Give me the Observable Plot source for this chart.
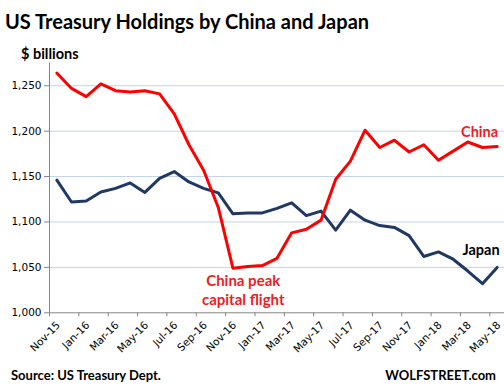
<!DOCTYPE html>
<html>
<head>
<meta charset="utf-8">
<script src="https://cdn.jsdelivr.net/npm/d3@7"></script>
<script src="https://cdn.jsdelivr.net/npm/@observablehq/plot@0.6"></script>
<style>
  html, body { margin: 0; padding: 0; background: #fff; }
  #wrap { position: relative; width: 504px; height: 391px; overflow: hidden; background: #fff; }
  .t { position: absolute; white-space: nowrap; font-family: Lato, "Open Sans", sans-serif; font-weight: bold; color: #000; z-index: 2; }
  #title { left: 5px; top: 11px; font-size: 20px; line-height: 20px; }
  #unit { left: 21px; top: 46px; font-size: 14.5px; line-height: 15px; }
  #source { left: 11px; top: 368px; font-size: 13px; line-height: 14px; }
  #brand { right: 8px; top: 368px; font-size: 13px; line-height: 14px; }
  #chart { position: absolute; left: 0; top: 40px; z-index: 1; }
</style>
</head>
<body>
<div id="wrap">
  <div id="chart"></div>
  <div class="t" id="title">US Treasury Holdings by China and Japan</div>
  <div class="t" id="unit">$ billions</div>
  <div class="t" id="source">Source: US Treasury Dept.</div>
  <div class="t" id="brand">WOLFSTREET.com</div>
</div>
<script>
const months = ["Nov-15","Dec-15","Jan-16","Feb-16","Mar-16","Apr-16","May-16","Jun-16","Jul-16","Aug-16","Sep-16","Oct-16",
  "Nov-16","Dec-16","Jan-17","Feb-17","Mar-17","Apr-17","May-17","Jun-17","Jul-17","Aug-17","Sep-17","Oct-17",
  "Nov-17","Dec-17","Jan-18","Feb-18","Mar-18","Apr-18","May-18"];
const china = [1264,1247,1238,1252,1244.5,1243,1244.5,1241,1219,1185,1157,1116,
  1049,1051,1052,1060,1088,1092,1102,1147,1167,1201,1182,1190,1177,1185,1168,1178,1188,1182,1183];
const japan = [1146,1122,1123,1133,1137,1143,1132.5,1148,1155.5,1144,1137,1132,
  1109,1110,1110,1115,1121,1107,1112,1091,1113,1102,1096,1094,1085,1062,1067,1059,1046,1032,1050];
const yTicks = [1000,1050,1100,1150,1200,1250];
const yGrid = [1050,1100,1150,1200,1250];

const chinaData = months.map((m, i) => ({i, m, v: china[i]}));
const japanData = months.map((m, i) => ({i, m, v: japan[i]}));
const labelData = months.map((m, i) => ({i, m})).filter(d => d.i % 2 === 0);
const boundaries = labelData.map(d => d.i - 0.5);
const xMin = -0.5, xMax = months.length - 0.5;
const fmt = d3.format(",");

const axisGrey = "#868686";
const gridBlue = "#c3d3ea";
const red = "#ff0000";
const navy = "#1f3864";

const chart = Plot.plot({
  width: 504,
  height: 325,
  marginLeft: 49,
  marginRight: 0,
  marginTop: 22.5,
  marginBottom: 52.7,
  style: {fontFamily: "DejaVu Sans, Verdana, sans-serif", fontSize: "10.5px", background: "transparent", color: "#000"},
  x: {type: "linear", domain: [xMin, xMax], axis: null},
  y: {domain: [1000, 1275], axis: null},
  marks: [
    Plot.ruleY(yGrid, {stroke: gridBlue, strokeWidth: 1}),
    Plot.ruleY([1000], {stroke: axisGrey, strokeWidth: 1}),
    Plot.ruleX([xMin], {stroke: axisGrey, strokeWidth: 1}),
    Plot.ruleY(yTicks, {x1: xMin, x2: xMin, insetLeft: -5, stroke: axisGrey}),
    Plot.ruleX(boundaries, {y1: 1000, y2: 1000, insetBottom: -4, stroke: axisGrey}),
    Plot.text(yTicks, {x: xMin, y: d => d, text: d => fmt(d), textAnchor: "end", dx: -8, fill: "#000"}),
    Plot.text(labelData, {x: "i", frameAnchor: "bottom", text: "m", rotate: -45, textAnchor: "end", dx: 4, dy: 13, fill: "#000"}),
    Plot.line(japanData, {x: "i", y: "v", stroke: navy, strokeWidth: 3, strokeLinejoin: "round", strokeLinecap: "round"}),
    Plot.line(chinaData, {x: "i", y: "v", stroke: red, strokeWidth: 3, strokeLinejoin: "round", strokeLinecap: "round"}),
    Plot.text([{x: 28.8, y: 1199, t: "China"}], {x: "x", y: "y", text: "t", fill: "#ee1c25", fontFamily: "Lato, sans-serif", fontWeight: "bold", fontSize: 14.5}),
    Plot.text([{x: 28.9, y: 1069, t: "Japan"}], {x: "x", y: "y", text: "t", fill: "#000", fontFamily: "Lato, sans-serif", fontWeight: "bold", fontSize: 14.5}),
    Plot.text([{x: 12.7, y: 1026, t: "China peak\ncapital flight"}], {x: "x", y: "y", text: "t", fill: "#ee1c25", fontFamily: "Lato, sans-serif", fontWeight: "bold", fontSize: 15, lineHeight: 1.25})
  ]
});
document.getElementById("chart").appendChild(chart);
</script>
</body>
</html>
